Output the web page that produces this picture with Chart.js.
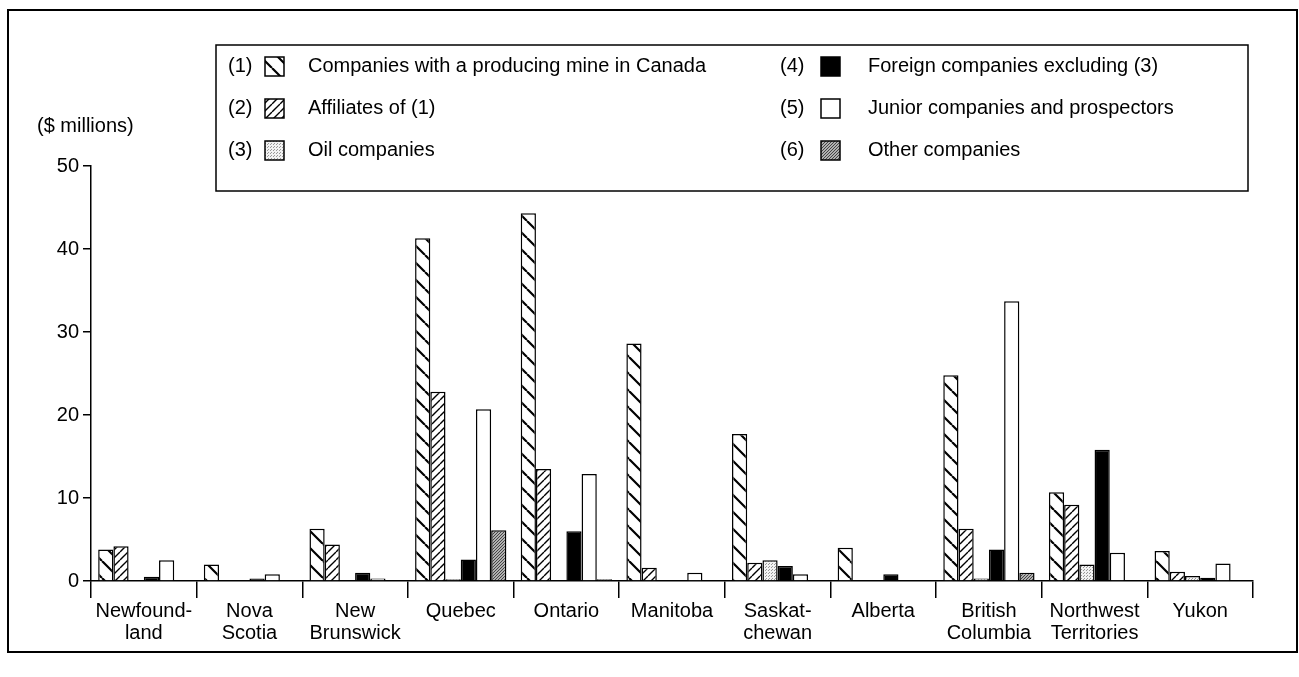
<!DOCTYPE html>
<html>
<head>
<meta charset="utf-8">
<script src="https://cdn.jsdelivr.net/npm/chart.js@4/dist/chart.umd.min.js"></script>
<style>
  html, body { margin: 0; padding: 0; background: #fff; }
  #wrap { width: 1299px; height: 677px; position: relative; }
</style>
</head>
<body>
<div id="wrap"><canvas id="chart" width="1299" height="677"></canvas></div>
<script>
// provinces / territories
const provinces = [
  ['Newfound-', 'land'], ['Nova', 'Scotia'], ['New', 'Brunswick'], 'Quebec', 'Ontario',
  'Manitoba', ['Saskat-', 'chewan'], 'Alberta', ['British', 'Columbia'],
  ['Northwest', 'Territories'], 'Yukon'
];

const seriesNames = [
  'Companies with a producing mine in Canada',
  'Affiliates of (1)',
  'Oil companies',
  'Foreign companies excluding (3)',
  'Junior companies and prospectors',
  'Other companies'
];

// $ millions
const producing  = [3.8, 2.0, 6.3, 41.3, 44.3, 28.6, 17.7, 4.0, 24.8, 10.7, 3.6];
const affiliates = [4.2, 0.1, 4.4, 22.8, 13.5, 1.6, 2.2, 0, 6.3, 9.2, 1.1];
const oil        = [0, 0, 0, 0.2, 0, 0, 2.5, 0, 0.3, 2.0, 0.6];
const foreign    = [0.5, 0.3, 1.0, 2.6, 6.0, 0, 1.8, 0.8, 3.8, 15.8, 0.4];
const junior     = [2.5, 0.8, 0.3, 20.7, 12.9, 1.0, 0.8, 0, 33.7, 3.4, 2.1];
const other      = [0, 0, 0, 6.1, 0.2, 0, 0, 0, 1.0, 0, 0];

const yTicks = [0, 10, 20, 30, 40, 50];

const FONT = '"Liberation Sans", Arial, Helvetica, sans-serif';

// hatch / stipple fills
function hatch(size, width, back) {
  const c = document.createElement('canvas');
  c.width = size; c.height = size;
  const g = c.getContext('2d');
  g.fillStyle = '#fff';
  g.fillRect(0, 0, size, size);
  g.strokeStyle = '#000';
  g.lineWidth = width;
  g.beginPath();
  for (let x = -size; x <= size; x += size) {
    if (back) { g.moveTo(x, 0); g.lineTo(x + size, size); }
    else { g.moveTo(x, size); g.lineTo(x + size, 0); }
  }
  g.stroke();
  return g.createPattern(c, 'repeat');
}

function stipple(dark) {
  const c = document.createElement('canvas');
  c.width = 3; c.height = 3;
  const g = c.getContext('2d');
  g.fillStyle = dark ? '#b0b0b0' : '#f2f2f2';
  g.fillRect(0, 0, 3, 3);
  g.fillStyle = dark ? '#444' : '#999';
  g.fillRect(0, 0, 1, 1);
  g.fillRect(1, 2, 1, 1);
  if (dark) g.fillRect(2, 1, 1, 1);
  return g.createPattern(c, 'repeat');
}

const fills = [hatch(17, 2.2, true), hatch(8, 1.4, false), stipple(false), '#000', '#fff', stipple(true)];
const values = [producing, affiliates, oil, foreign, junior, other];

// frame, legend box and unit label
const decor = {
  id: 'decor',
  afterDraw(chart) {
    const ctx = chart.ctx;
    ctx.save();
    ctx.strokeStyle = '#000';
    ctx.lineWidth = 2;
    ctx.strokeRect(8, 10, 1289, 642);
    ctx.lineWidth = 1.5;
    ctx.strokeRect(216, 45, 1032, 146);

    ctx.font = '20px ' + FONT;
    ctx.textBaseline = 'middle';
    ctx.fillStyle = '#000';
    ctx.fillText('($ millions)', 37, 126);

    chart.data.datasets.forEach((ds, i) => {
      const col = i < 3 ? 0 : 1;
      const y = 66 + (i % 3) * 42;
      ctx.fillStyle = '#000';
      ctx.fillText('(' + (i + 1) + ')', col ? 780 : 228, y);
      const sx = col ? 821 : 265;
      ctx.fillStyle = ds.backgroundColor;
      ctx.fillRect(sx, y - 9, 19, 19);
      ctx.lineWidth = 1.5;
      ctx.strokeRect(sx, y - 9, 19, 19);
      ctx.fillStyle = '#000';
      ctx.fillText(ds.label, col ? 868 : 308, y);
    });
    ctx.restore();
  }
};

new Chart(document.getElementById('chart'), {
  type: 'bar',
  data: {
    labels: provinces,
    datasets: seriesNames.map((name, i) => ({
      label: name,
      data: values[i],
      backgroundColor: fills[i],
      borderColor: '#000',
      borderWidth: 1.5,
      barPercentage: 1,
      categoryPercentage: 0.864
    }))
  },
  options: {
    responsive: false,
    animation: false,
    layout: { padding: { left: 0, top: 166, right: 46, bottom: 0 } },
    plugins: { legend: { display: false }, tooltip: { enabled: false } },
    scales: {
      x: {
        afterFit: s => { s.height = 96; },
        grid: { drawOnChartArea: false, offset: true, tickLength: 17, color: '#000', lineWidth: 1.5 },
        border: { color: '#000', width: 1.5 },
        ticks: { color: '#000', padding: 2, maxRotation: 0, autoSkip: false, font: { family: FONT, size: 20, lineHeight: 1.1 } }
      },
      y: {
        min: 0,
        max: 50,
        afterFit: s => { s.width = 91; },
        afterBuildTicks: s => { s.ticks = yTicks.map(v => ({ value: v })); },
        grid: { drawOnChartArea: false, tickLength: 8, color: '#000', lineWidth: 1.5 },
        border: { color: '#000', width: 1.5 },
        ticks: { color: '#000', padding: 4, font: { family: FONT, size: 20 } }
      }
    }
  },
  plugins: [decor]
});
</script>
</body>
</html>
